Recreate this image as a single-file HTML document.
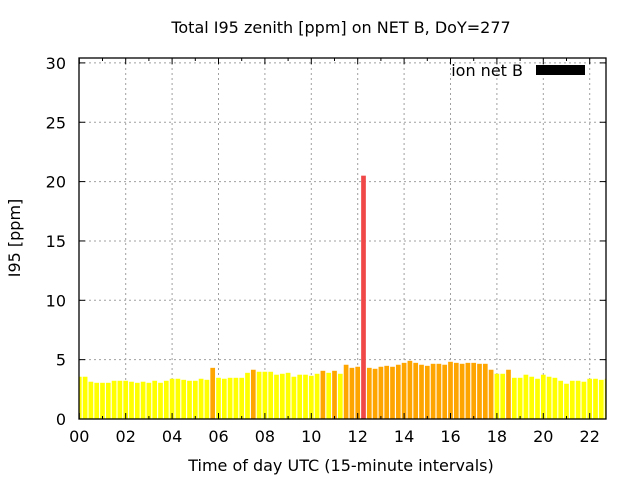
<!DOCTYPE html>
<html><head><meta charset="utf-8"><style>
body{margin:0;background:#fff;}
svg text{font-family:"DejaVu Sans","Liberation Sans",sans-serif;font-size:16px;fill:#000;}
</style></head><body>
<svg id="chart" width="640" height="480">
<rect width="640" height="480" fill="#fff"/>
<text x="341" y="33" text-anchor="middle">Total I95 zenith [ppm] on NET B, DoY=277</text>
<text x="341" y="471" text-anchor="middle">Time of day UTC (15-minute intervals)</text>
<text transform="translate(20,238) rotate(-90)" text-anchor="middle">I95 [ppm]</text>
<g id="grid"></g>
<defs><clipPath id="pc"><rect x="79" y="58" width="527" height="361"/></clipPath></defs>
<g id="bars" clip-path="url(#pc)"></g>
<g id="axes"></g>
<text x="523" y="76" text-anchor="end">ion net B</text>
<rect x="536" y="65" width="49" height="10" fill="#000"/>
</svg>
<script>
const values = [3.56,3.56,3.14,3.05,3.05,3.05,3.22,3.22,3.22,3.14,3.05,3.14,3.05,3.22,3.05,3.22,3.39,3.39,3.3,3.22,3.22,3.39,3.3,4.31,3.47,3.39,3.47,3.47,3.47,3.89,4.15,3.98,3.98,3.98,3.73,3.81,3.89,3.56,3.73,3.73,3.64,3.81,4.06,3.89,4.06,3.81,4.57,4.31,4.4,20.5,4.31,4.23,4.4,4.48,4.4,4.57,4.73,4.9,4.73,4.57,4.48,4.65,4.65,4.57,4.82,4.73,4.65,4.73,4.73,4.65,4.65,4.15,3.81,3.81,4.15,3.47,3.47,3.73,3.56,3.39,3.73,3.56,3.47,3.22,2.97,3.22,3.22,3.14,3.39,3.39,3.3,3.39];
const yTicks = [0,5,10,15,20,25,30];
const xTicks = ["00","02","04","06","08","10","12","14","16","18","20","22"];
const NS="http://www.w3.org/2000/svg";
const X0=79.3, PXH=23.2, Y0=419, PXU=11.87, LEFT=79, RIGHT=606, TOP=58;
function xs(h){return X0+h*PXH;}
function ys(v){return Y0-v*PXU;}
function mk(tag,attrs,parent){const e=document.createElementNS(NS,tag);for(const k in attrs)e.setAttribute(k,attrs[k]);parent.appendChild(e);return e;}
const grid=document.getElementById('grid'),bars=document.getElementById('bars'),axes=document.getElementById('axes');
yTicks.forEach(v=>{
  const y=ys(v);
  if(v>0){const l=mk('line',{x1:LEFT,x2:RIGHT,y1:y,y2:y,stroke:'#a0a0a0','stroke-dasharray':'2,3'},grid);
  
  }
  mk('line',{x1:LEFT,x2:LEFT+6,y1:y,y2:y,stroke:'#000'},axes);
  mk('line',{x1:RIGHT,x2:RIGHT-6,y1:y,y2:y,stroke:'#000'},axes);
  const t=mk('text',{x:66,y:y+6,'text-anchor':'end'},axes);t.textContent=v;
  
  
});
xTicks.forEach((s,i)=>{
  const x=xs(i*2);
  if(i>0){const l=mk('line',{x1:x,x2:x,y1:TOP,y2:Y0,stroke:'#a0a0a0','stroke-dasharray':'2,3'},grid);
  
  }
  const t=mk('text',{x:x,y:442,'text-anchor':'middle'},axes);t.textContent=s;
  
  
});
for(let h=0;h<=22;h++){const x=xs(h);
  mk('line',{x1:x,x2:x,y1:Y0,y2:Y0-(h%2?3:6),stroke:'#000'},axes);
  mk('line',{x1:x,x2:x,y1:TOP,y2:TOP+(h%2?3:6),stroke:'#000'},axes);}
values.forEach((v,i)=>{
  const cx=xs(i*0.25), w=4.7;
  const col=v>=10?'#f04848':(v>=4?'#ffa500':'#ffff00');
  const r=mk('rect',{x:cx-w/2,y:ys(v),width:w,height:Y0-ys(v),fill:col},bars);
  
  
});
const b=mk('rect',{x:LEFT,y:TOP,width:RIGHT-LEFT,height:Y0-TOP,fill:'none',stroke:'#000','stroke-width':1.3},axes);


</script>
</body></html>
